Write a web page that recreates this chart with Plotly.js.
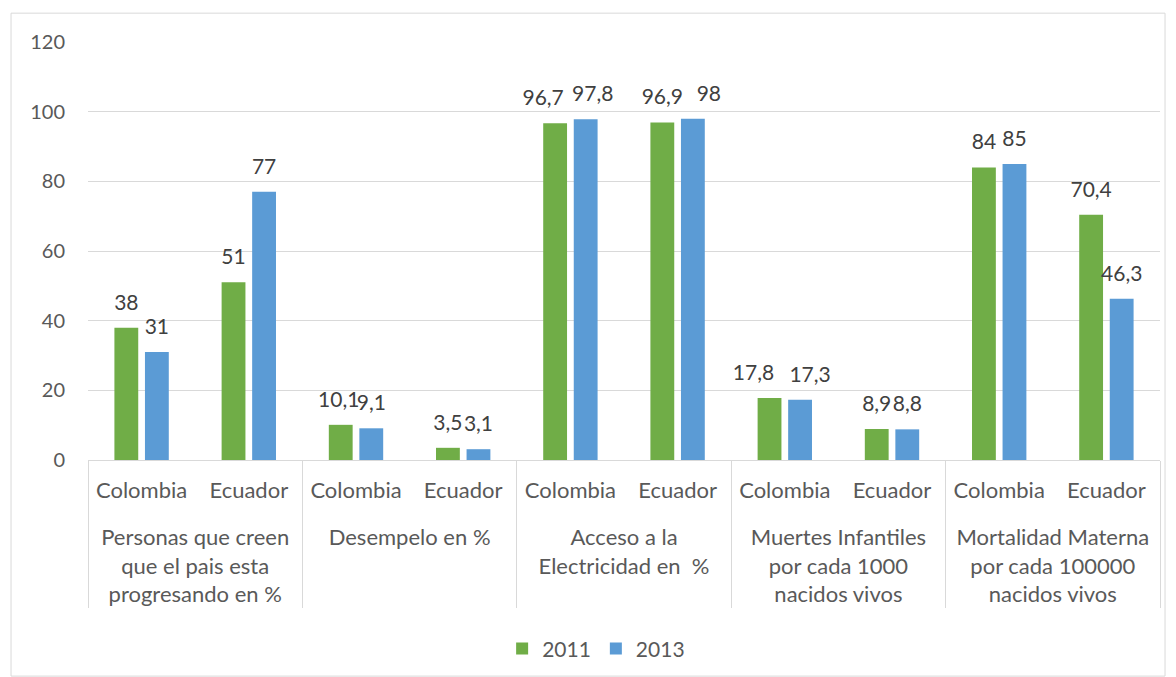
<!DOCTYPE html>
<html>
<head>
<meta charset="utf-8">
<script src="https://cdn.plot.ly/plotly-3.0.1.min.js"></script>
<style>html,body{margin:0;padding:0;background:#fff;}#chart{width:1176px;height:677px;}</style>
</head>
<body>
<div id="chart"></div>
<script>
const indicators = [
  "Personas que creen<br>que el pais esta<br>progresando en %",
  "Desempelo en %",
  "Acceso a la<br>Electricidad en  %",
  "Muertes Infantiles<br>por cada 1000<br>nacidos vivos",
  "Mortalidad Materna<br>por cada 100000<br>nacidos vivos"
];
const countries = ["Colombia", "Ecuador"];
const values2011 = [38, 51, 10.1, 3.5, 96.7, 96.9, 17.8, 8.9, 84, 70.4];
const values2013 = [31, 77, 9.1, 3.1, 97.8, 98, 17.3, 8.8, 85, 46.3];
const seriesNames = ["2011", "2013"];
const yTicks = [0, 20, 40, 60, 80, 100, 120];

// style: horizontal nudges (px) of data labels, as placed in the original chart
const labelNudge2011 = [0, 0, -2, 0, -12, 0, -16, 0, 0, 0];
const labelNudge2013 = [0, 0, 0, 0, 7, 16, 10, 0, 0, 0];
const labelLift = -11;

const outer = [], inner = [];
indicators.forEach(ind => countries.forEach(c => { outer.push('\u00a0<br>' + ind); inner.push(c); }));
const fmt = v => String(v).replace('.', ',');

const font = "Lato, 'Open Sans', sans-serif";
const traces = [
  {type: 'bar', name: seriesNames[0], x: [outer, inner], y: values2011,
   marker: {color: '#70AD47'}, text: values2011.map(fmt), textposition: 'outside',
   constraintext: 'none', cliponaxis: false, textfont: {color: '#404040', size: 21, family: font}},
  {type: 'bar', name: seriesNames[1], x: [outer, inner], y: values2013,
   marker: {color: '#5B9BD5'}, text: values2013.map(fmt), textposition: 'outside',
   constraintext: 'none', cliponaxis: false, textfont: {color: '#404040', size: 21, family: font}}
];

const layout = {
  width: 1176, height: 677,
  margin: {l: 88, r: 16, t: 42, b: 217, autoexpand: false},
  paper_bgcolor: '#fff', plot_bgcolor: '#fff',
  font: {family: font, color: '#595959', size: 20},
  barmode: 'group', bargap: 0.43, bargroupgap: 0.22,
  showlegend: true,
  legend: {orientation: 'h', x: 0.474, xanchor: 'center', y: -0.452, yanchor: 'middle',
           font: {size: 21, color: '#595959'}, traceorder: 'normal', itemwidth: 30,
           tracegroupgap: 0},
  xaxis: {type: 'multicategory', automargin: false, showline: true, linecolor: '#d9d9d9', linewidth: 1,
          showdividers: true, dividercolor: '#d9d9d9', dividerwidth: 1,
          tickfont: {size: 22, color: '#595959'}, ticks: '', showgrid: false,
          ticklabelstandoff: 11},
  yaxis: {range: [0, 120], automargin: false, tickvals: yTicks, showgrid: true, gridcolor: '#d9d9d9',
          zeroline: false, showline: false, ticks: '', tickfont: {size: 20, color: '#595959'},
          ticklabelstandoff: 22},
  shapes: [{type: 'rect', xref: 'paper', yref: 'paper', x0: -0.0718, x1: 1.0047, y0: -0.517, y1: 1.069,
            line: {color: '#d9d9d9', width: 1}, fillcolor: 'rgba(0,0,0,0)', layer: 'below'}]
};

Plotly.newPlot('chart', traces, layout, {displayModeBar: false, staticPlot: true}).then(gd => {
  const nudges = [labelNudge2011, labelNudge2013];
  gd.querySelectorAll('g.trace.bars').forEach((tr, ti) => {
    tr.querySelectorAll('g.point').forEach((pt, pi) => {
      const t = pt.querySelector('text.bartext');
      if (!t) return;
      const dx = (nudges[ti] && nudges[ti][pi]) || 0;
      t.setAttribute('transform', `translate(${dx},${labelLift}) ` + (t.getAttribute('transform') || ''));
    });
  });
});
</script>
</body>
</html>
